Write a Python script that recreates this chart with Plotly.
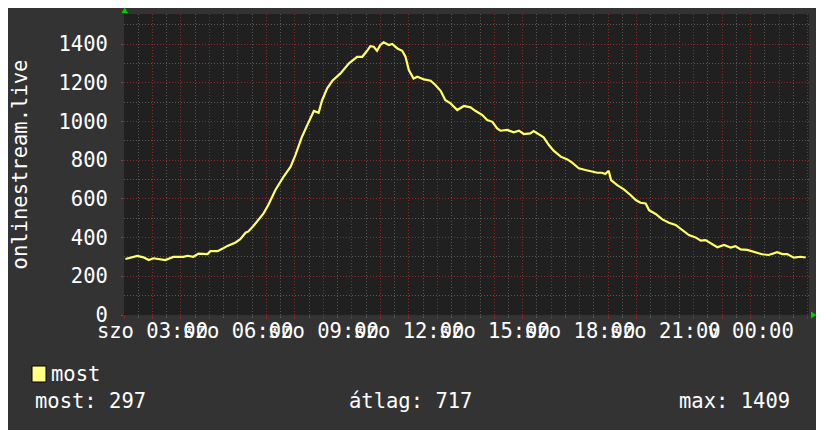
import plotly.graph_objects as go
from datetime import datetime, timedelta

# ---- data (Saturday, viewers of onlinestream.live) ----
base_day = "2024-01-06"
clock = ["02:03", "02:28", "02:41", "02:52", "03:02", "03:27", "03:44", "04:05", "04:14", "04:26",
         "04:37", "04:56", "05:02", "05:17", "05:28", "05:38", "05:55", "06:05", "06:16", "06:22",
         "06:33", "06:43", "06:54", "07:04", "07:13", "07:19", "07:36", "07:51", "08:01", "08:15",
         "08:26", "08:40", "08:50", "08:57", "09:08", "09:19", "09:36", "09:54", "10:11", "10:22",
         "10:32", "10:39", "10:46", "10:53", "11:00", "11:07", "11:18", "11:25", "11:36", "11:46",
         "11:53", "12:00", "12:10", "12:18", "12:32", "12:46", "12:56", "13:07", "13:17", "13:28",
         "13:42", "13:56", "14:10", "14:20", "14:35", "14:45", "14:56", "15:06", "15:13", "15:27",
         "15:41", "15:52", "16:02", "16:16", "16:23", "16:34", "16:44", "16:55", "17:05", "17:20",
         "17:34", "17:44", "17:58", "18:12", "18:26", "18:37", "18:47", "18:54", "19:01", "19:06",
         "19:19", "19:33", "19:47", "19:58", "20:08", "20:19", "20:26", "20:40", "20:54", "21:08",
         "21:22", "21:36", "21:50", "22:04", "22:15", "22:25", "22:39", "22:50", "23:04", "23:18",
         "23:28", "23:39", "23:53", "00:10", "00:24", "00:38", "00:56", "01:07", "01:17", "01:31",
         "01:45", "01:56"]
most_values = [289, 305, 298, 284, 293, 284, 300, 300, 306, 301,
               317, 315, 330, 330, 343, 357, 375, 392, 425, 432,
               461, 494, 525, 568, 611, 646, 714, 766, 826, 921,
               981, 1054, 1045, 1107, 1171, 1210, 1248, 1300, 1334, 1334,
               1365, 1389, 1386, 1365, 1395, 1409, 1395, 1400, 1377, 1365,
               1334, 1265, 1222, 1231, 1217, 1210, 1188, 1158, 1110, 1093,
               1059, 1080, 1073, 1055, 1033, 1007, 998, 964, 952, 956,
               944, 952, 935, 938, 950, 935, 918, 878, 849, 818,
               804, 787, 758, 749, 740, 735, 735, 728, 745, 697,
               671, 649, 620, 594, 580, 576, 542, 522, 494, 477,
               465, 439, 413, 401, 384, 387, 365, 350, 362, 348,
               356, 339, 336, 322, 314, 310, 324, 315, 315, 296,
               301, 297]

x_label_hours = ["03:00", "06:00", "09:00", "12:00", "15:00", "18:00", "21:00", "00:00"]
x_label_texts = ["szo 03:00", "szo 06:00", "szo 09:00", "szo 12:00", "szo 15:00",
                 "szo 18:00", "szo 21:00", "v 00:00"]
y_tick_values = [0, 200, 400, 600, 800, 1000, 1200, 1400]
y_title = "onlinestream.live"
legend_name = "most"
stat_labels = ["most: 297", "átlag: 717", "max: 1409"]

# ---- build datetimes with day rollover ----
start = datetime.fromisoformat(base_day + " 02:00")
def to_dt(hhmm):
    t = datetime.fromisoformat(base_day + " " + hhmm)
    if t < start:
        t += timedelta(days=1)
    return t

times = [to_dt(c) for c in clock]
x_end = start + timedelta(hours=24, minutes=3)

tickvals = [start + timedelta(hours=h) for h in range(0, 25)]
label_map = {to_dt(h): t for h, t in zip(x_label_hours, x_label_texts)}
ticktext = [label_map.get(tv, "") for tv in tickvals]

BG = "#333333"
PLOT_BG = "#202020"
MAJOR = "#8a2a2a"
MINOR = "#595959"
LINE = "#ffff66"
FONT = "DejaVu Sans Mono"

fig = go.Figure()
fig.add_trace(go.Scatter(x=times, y=most_values, mode="lines",
                         line=dict(color=LINE, width=2.2), name=legend_name,
                         showlegend=False, hoverinfo="x+y"))

# page has an 8px body margin: figure origin sits at (8, 8) in the window
OFF = 8
PL, PR, PT, PB = 124, 809, 14, 315   # plot area in window pixels
W, H = 824 - OFF, 430 - OFF
L, T = PL - OFF, PT - OFF
R = W - (PR - OFF)
B = H - (PB - OFF)
pw, ph = PR - PL, PB - PT
def px(x):
    return (x - PL) / pw
def py(y):
    return (PB - y) / ph

fig.update_layout(
    width=W, height=H,
    margin=dict(l=L, r=R, t=T, b=B, autoexpand=False),
    paper_bgcolor=BG, plot_bgcolor=PLOT_BG,
    font=dict(family=FONT, size=20.5, color="#ffffff"),
    xaxis=dict(
        type="date", range=[start, x_end], automargin=False,
        tickmode="array", tickvals=tickvals, ticktext=ticktext, tickangle=0,
        showgrid=True, gridcolor=MAJOR, griddash="1px,2px", gridwidth=1,
        ticks="outside", ticklen=3, tickcolor=MAJOR,
        minor=dict(dtick=30 * 60 * 1000, tick0=start, showgrid=True, gridcolor=MINOR,
                   griddash="1px,2px", ticks="outside", ticklen=2, tickcolor=MINOR),
        zeroline=False, showline=False, fixedrange=True,
        ticklabelstandoff=-6,
        tickfont=dict(family=FONT, size=20.5, color="#ffffff"),
    ),
    yaxis=dict(
        range=[0, 1555], tickmode="array", tickvals=y_tick_values, automargin=False,
        showgrid=True, gridcolor=MAJOR, griddash="1px,2px",
        ticks="outside", ticklen=2, tickcolor=MINOR,
        minor=dict(dtick=100, tick0=0, showgrid=True, gridcolor=MINOR, griddash="1px,2px"),
        zeroline=False, showline=False, fixedrange=True,
        ticklabelstandoff=9,
        title=dict(text=y_title, standoff=36, font=dict(family=FONT, size=20.5, color="#ffffff")),
        tickfont=dict(family=FONT, size=20.5, color="#ffffff"),
    ),
    showlegend=False,
)

# legend swatch + label
fig.add_shape(type="rect", xref="paper", yref="paper",
              x0=px(32), x1=px(46), y0=py(382), y1=py(366),
              fillcolor="#ffff80", line=dict(color="#000000", width=1))
fig.add_annotation(text=legend_name, xref="paper", yref="paper", x=px(49), y=py(374),
                   xanchor="left", yanchor="middle", showarrow=False,
                   font=dict(family=FONT, size=20.5, color="#ffffff"))

# statistics row
for label, xpos, anchor in zip(stat_labels, [33, 347, 792], ["left", "left", "right"]):
    fig.add_annotation(text=label, xref="paper", yref="paper", x=px(xpos), y=py(401),
                       xanchor=anchor, yanchor="middle", showarrow=False,
                       font=dict(family=FONT, size=20.5, color="#ffffff"))

# green axis arrows
fig.add_shape(type="path", xref="paper", yref="paper",
              path=f"M {px(121.5)} {py(13)} L {px(128)} {py(13)} L {px(124.7)} {py(7.5)} Z",
              fillcolor="#00cc00", line=dict(color="#00cc00", width=0))
fig.add_shape(type="path", xref="paper", yref="paper",
              path=f"M {px(811)} {py(311.5)} L {px(811)} {py(318.5)} L {px(816.5)} {py(315)} Z",
              fillcolor="#00cc00", line=dict(color="#00cc00", width=0))

fig.write_html("out.html")
